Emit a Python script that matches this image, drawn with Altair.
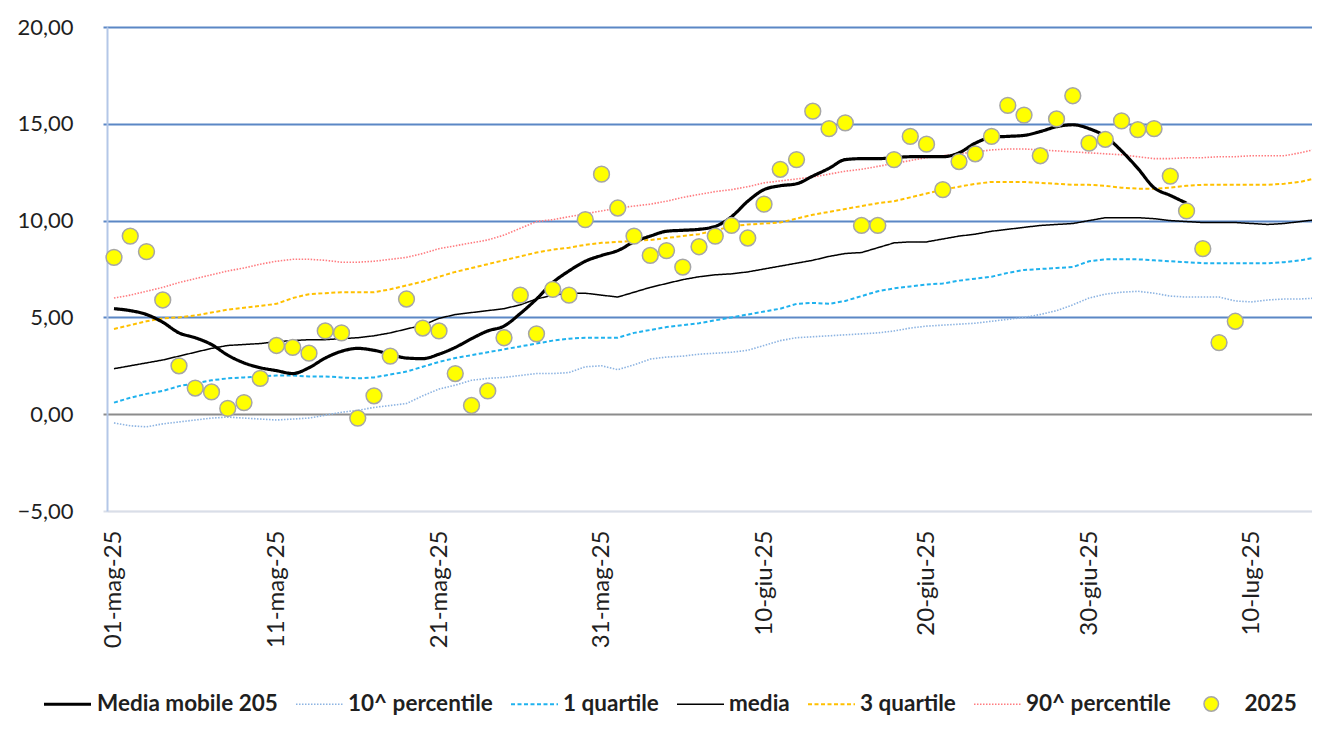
import altair as alt
import pandas as pd

# ---------------- data ----------------
days = list(range(75))                      # day index, 0 = 01-mag-25
tick_days = [0, 10, 20, 30, 40, 50, 60, 70]
tick_labels = ["01-mag-25", "11-mag-25", "21-mag-25", "31-mag-25",
               "10-giu-25", "20-giu-25", "30-giu-25", "10-lug-25"]

line_names = ["Media mobile 205", "10^ percentile", "1 quartile",
              "media", "3 quartile", "90^ percentile"]
point_name = "2025"

media_mobile = [5.45, 5.35, 5.15, 4.75, 4.2, 3.95, 3.6, 3.05, 2.65, 2.4,
                2.25, 2.1, 2.4, 2.9, 3.25, 3.4, 3.3, 3.1, 2.9, 2.87,
                3.1, 3.45, 3.9, 4.3, 4.55, 5.2, 5.95, 6.8, 7.4, 7.9,
                8.2, 8.45, 8.9, 9.2, 9.45, 9.5, 9.55, 9.7, 10.2, 11.0,
                11.6, 11.8, 11.9, 12.3, 12.7, 13.15, 13.2, 13.2, 13.25, 13.3,
                13.3, 13.3, 13.5, 14.0, 14.3, 14.35, 14.4, 14.6, 14.85, 14.95,
                14.75, 14.35, 13.6, 12.7, 11.7, 11.3, 10.9]

p10 = [-0.45, -0.6, -0.65, -0.5, -0.4, -0.3, -0.2, -0.15, -0.2, -0.25,
       -0.3, -0.25, -0.2, -0.05, 0.1, 0.2, 0.35, 0.45, 0.55, 0.95,
       1.3, 1.5, 1.75, 1.85, 1.9, 2.0, 2.1, 2.1, 2.15, 2.45,
       2.5, 2.3, 2.55, 2.85, 2.95, 3.0, 3.1, 3.15, 3.2, 3.3,
       3.55, 3.8, 3.95, 4.0, 4.05, 4.1, 4.15, 4.2, 4.3, 4.45,
       4.55, 4.6, 4.65, 4.7, 4.8, 4.9, 5.0, 5.15, 5.35, 5.65,
       6.0, 6.2, 6.3, 6.35, 6.25, 6.1, 6.05, 6.05, 6.05, 5.85,
       5.8, 5.9, 5.95, 5.95, 6.0]

q1 = [0.6, 0.85, 1.05, 1.2, 1.45, 1.6, 1.75, 1.85, 1.9, 1.95,
      2.0, 2.0, 1.95, 1.95, 1.9, 1.85, 1.9, 2.05, 2.2, 2.45,
      2.7, 2.9, 3.05, 3.2, 3.35, 3.5, 3.65, 3.8, 3.9, 3.95,
      3.95, 3.95, 4.2, 4.35, 4.5, 4.6, 4.7, 4.85, 5.0, 5.15,
      5.3, 5.45, 5.7, 5.75, 5.7, 5.85, 6.1, 6.35, 6.5, 6.6,
      6.7, 6.75, 6.9, 7.0, 7.1, 7.3, 7.45, 7.5, 7.55, 7.6,
      7.9, 8.0, 8.0, 8.0, 7.95, 7.9, 7.85, 7.8, 7.8, 7.8,
      7.8, 7.8, 7.85, 7.95, 8.1]

media = [2.35, 2.5, 2.65, 2.8, 3.0, 3.2, 3.4, 3.55, 3.6, 3.65,
         3.75, 3.8, 3.85, 3.85, 3.9, 3.95, 4.05, 4.2, 4.4, 4.6,
         4.95, 5.15, 5.25, 5.35, 5.45, 5.65, 5.95, 6.15, 6.25, 6.25,
         6.15, 6.05, 6.3, 6.55, 6.75, 6.95, 7.1, 7.2, 7.25, 7.35,
         7.5, 7.65, 7.8, 7.95, 8.15, 8.3, 8.35, 8.6, 8.85, 8.9,
         8.9, 9.05, 9.2, 9.3, 9.45, 9.55, 9.65, 9.75, 9.8, 9.85,
         10.0, 10.15, 10.15, 10.15, 10.1, 10.0, 9.95, 9.9, 9.9, 9.9,
         9.85, 9.8, 9.85, 9.95, 10.05]

q3 = [4.4, 4.6, 4.8, 4.95, 5.0, 5.1, 5.25, 5.4, 5.5, 5.6,
      5.7, 6.0, 6.2, 6.25, 6.3, 6.3, 6.3, 6.45, 6.65, 6.85,
      7.1, 7.35, 7.55, 7.75, 7.95, 8.15, 8.35, 8.5, 8.6, 8.75,
      8.85, 8.9, 8.95, 9.0, 9.1, 9.2, 9.3, 9.5, 9.7, 9.8,
      9.85, 9.9, 10.1, 10.3, 10.45, 10.6, 10.75, 10.9, 11.0, 11.2,
      11.4, 11.6, 11.75, 11.9, 12.0, 12.0, 12.0, 11.95, 11.9, 11.85,
      11.85, 11.8, 11.7, 11.65, 11.65, 11.7, 11.8, 11.85, 11.85, 11.85,
      11.85, 11.85, 11.9, 12.0, 12.2]

p90 = [6.0, 6.15, 6.35, 6.55, 6.8, 7.0, 7.2, 7.4, 7.55, 7.75,
       7.9, 8.0, 8.0, 7.95, 7.85, 7.85, 7.9, 8.0, 8.1, 8.3,
       8.55, 8.7, 8.85, 9.0, 9.25, 9.6, 9.95, 10.05, 10.2, 10.35,
       10.5, 10.65, 10.75, 10.85, 11.0, 11.2, 11.35, 11.5, 11.6, 11.75,
       11.95, 12.05, 12.15, 12.25, 12.4, 12.55, 12.65, 12.8, 12.95, 13.1,
       13.25, 13.35, 13.45, 13.55, 13.65, 13.7, 13.7, 13.65, 13.6, 13.55,
       13.5, 13.45, 13.4, 13.3, 13.2, 13.2, 13.25, 13.25, 13.3, 13.3,
       13.35, 13.35, 13.35, 13.5, 13.7]

y2025 = [8.1, 9.2, 8.4, 5.9, 2.5, 1.35, 1.15, 0.3, 0.6, 1.85,
         3.55, 3.45, 3.15, 4.3, 4.2, -0.2, 0.95, 3.0, 5.95, 4.45,
         4.3, 2.1, 0.45, 1.2, 3.95, 6.15, 4.15, 6.45, 6.15, 10.05,
         12.4, 10.65, 9.2, 8.2, 8.45, 7.6, 8.65, 9.2, 9.75, 9.1,
         10.85, 12.65, 13.15, 15.65, 14.75, 15.05, 9.75, 9.75, 13.15, 14.35,
         13.95, 11.6, 13.05, 13.45, 14.35, 15.95, 15.45, 13.35, 15.25, 16.45,
         14.0, 14.2, 15.15, 14.7, 14.75, 12.3, 10.5, 8.55, 3.7, 4.8]

# ---------------- styles ----------------
line_colors = ["#000000", "#8DB4E2", "#1FB2EE", "#000000", "#FFC000", "#FF7C80"]
line_dashes = [[1, 0], [1.5, 1.5], [4, 2.5], [1, 0], [4, 2.5], [1.5, 1.5]]
line_widths = [3.2, 1.6, 2.0, 1.5, 2.0, 1.6]
FONT = "Lato"
TXT = "#1F1F1F"

series_values = [media_mobile, p10, q1, media, q3, p90]
rows = []
for name, vals in zip(line_names, series_values):
    for d, v in zip(days, vals):
        rows.append({"day": d, "value": v, "series": name})
df_lines = pd.DataFrame(rows)
df_ma = df_lines[df_lines["series"] == "Media mobile 205"]
df_others = df_lines[df_lines["series"] != "Media mobile 205"]
df_pts = pd.DataFrame({"day": days[:len(y2025)], "value": y2025,
                       "series": [point_name] * len(y2025)})

label_expr = "[" + ",".join("'%s'" % t for t in tick_labels) + "][round(datum.value/10)]"

axis_line_cond = {"condition": [
    {"test": "datum.value === 0", "value": "#8C8C8C"},
    {"test": "datum.value === -5", "value": "#D9DEE8"}],
    "value": "#5B87C5"}

x_enc = alt.X("day:Q",
              scale=alt.Scale(domain=[-0.43, 73.72], nice=False, zero=False),
              axis=alt.Axis(values=tick_days, labelExpr=label_expr, labelAngle=270,
                            labelAlign="right", labelBaseline="middle", grid=False,
                            ticks=False, domainColor="#D9DEE8", domainWidth=1.5,
                            title=None, labelPadding=19, labelFont=FONT,
                            labelFontSize=24, labelColor=TXT))
y_enc = alt.Y("value:Q",
              scale=alt.Scale(domain=[-5, 20], nice=False, zero=False),
              axis=alt.Axis(values=[-5, 0, 5, 10, 15, 20],
                            labelExpr="replace(format(datum.value,'.2f'),'.',',')",
                            gridColor=axis_line_cond, tickColor=axis_line_cond,
                            gridWidth=2, tickSize=4, tickWidth=2,
                            domainColor="#B4C7E7", domainWidth=2,
                            labelPadding=30, title=None, labelFont=FONT,
                            labelFontSize=22, labelColor=TXT))

line_legend = alt.Legend(title=None, orient="none", legendX=-65, legendY=666,
                         direction="horizontal", symbolType="stroke",
                         symbolSize=2209, labelOffset=4, columnPadding=17,
                         clipHeight=22, padding=0, symbolOffset=0,
                         labelFont=FONT, labelFontSize=22.5, labelFontWeight="bold",
                         labelColor=TXT, labelLimit=0)
pt_legend = alt.Legend(title=None, orient="none", legendX=1093, legendY=666,
                       direction="horizontal", symbolType="circle", symbolSize=210,
                       symbolStrokeColor="#A6A6A6", symbolStrokeWidth=1.5,
                       symbolFillColor="#FFFF00", labelOffset=22, clipHeight=22,
                       padding=0, symbolOffset=0, labelFont=FONT, labelFontSize=22.5,
                       labelFontWeight="bold", labelColor=TXT, labelLimit=0)

color_enc = alt.Color("series:N", scale=alt.Scale(domain=line_names, range=line_colors),
                      legend=line_legend)
dash_enc = alt.StrokeDash("series:N", scale=alt.Scale(domain=line_names, range=line_dashes),
                          legend=line_legend)
width_enc = alt.StrokeWidth("series:N",
                            scale=alt.Scale(type="ordinal", domain=line_names, range=line_widths),
                            legend=line_legend)

others = alt.Chart(df_others).mark_line(clip=True).encode(
    x=x_enc, y=y_enc, color=color_enc, strokeDash=dash_enc, strokeWidth=width_enc)

ma_line = alt.Chart(df_ma).mark_line(clip=True, interpolate="monotone").encode(
    x=x_enc, y=y_enc, color=color_enc, strokeDash=dash_enc, strokeWidth=width_enc)

points = alt.Chart(df_pts).mark_circle(size=250, stroke="#A6A6A6", strokeWidth=1.5,
                                       opacity=1).encode(
    x=x_enc, y=y_enc,
    fill=alt.Fill("series:N", scale=alt.Scale(domain=[point_name], range=["#FFFF00"]),
                  legend=pt_legend))

chart = alt.layer(others, ma_line, points).properties(
    width=1205, height=484,
    padding={"top": 8, "left": 8, "right": 0, "bottom": 0},
    background="white",
).configure_view(stroke=None)

chart.save("out.html", embed_options={"renderer": "svg", "actions": False})
